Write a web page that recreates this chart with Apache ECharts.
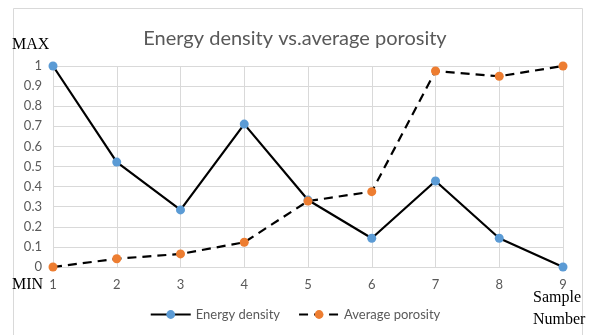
<!DOCTYPE html>
<html><head><meta charset="utf-8">
<script src="https://cdn.jsdelivr.net/npm/echarts@6/dist/echarts.min.js"></script>
<style>html,body{margin:0;padding:0;background:#fff}#c{width:590px;height:335px}</style>
</head><body><div id="c"></div>
<script>
const categories = ['1','2','3','4','5','6','7','8','9'];
const energyDensity = [1, 0.522, 0.284, 0.711, 0.333, 0.143, 0.428, 0.143, 0];
const averagePorosity = [0, 0.041, 0.065, 0.123, 0.328, 0.375, 0.975, 0.949, 1];
const titleText = 'Energy density vs.average porosity';

const chart = echarts.init(document.getElementById('c'), null, {renderer:'canvas'});
const tickFont = 'Lato, "Open Sans", sans-serif';
chart.setOption({
  animation:false,
  backgroundColor:'#fff',
  title:{text:titleText,left:'center',top:24,
    textStyle:{fontFamily:tickFont,fontSize:20,fontWeight:'normal',color:'#595959'}},
  grid:{left:53,right:27,top:66,bottom:68,containLabel:false},
  legend:{bottom:9,left:'center',itemWidth:40,itemHeight:11,itemGap:18,
    textStyle:{fontFamily:tickFont,fontSize:13,color:'#595959'},
    data:['Energy density','Average porosity']},
  xAxis:{type:'category',data:categories,boundaryGap:false,
    axisTick:{show:false},
    axisLine:{lineStyle:{color:'#d9d9d9'}},
    axisLabel:{fontFamily:tickFont,fontSize:13,color:'#595959',margin:11},
    splitLine:{show:true,lineStyle:{color:'#d9d9d9'}}},
  yAxis:{type:'value',min:0,max:1,interval:0.1,
    axisLine:{show:true,lineStyle:{color:'#d9d9d9'}},
    axisTick:{show:false},
    axisLabel:{fontFamily:tickFont,fontSize:13,color:'#595959',margin:11},
    splitLine:{lineStyle:{color:'#d9d9d9'}}},
  series:[
    {name:'Energy density',type:'line',data:energyDensity,symbol:'circle',symbolSize:9,
      lineStyle:{color:'#000',width:2.2},itemStyle:{color:'#5B9BD5'}},
    {name:'Average porosity',type:'line',data:averagePorosity,symbol:'circle',symbolSize:9,
      lineStyle:{color:'#000',width:2.2,type:[9,6]},itemStyle:{color:'#ED7D31'}}
  ],
  graphic:[
    {type:'rect',shape:{x:13.5,y:8.5,width:569,height:340},style:{fill:null,stroke:'#d9d9d9',lineWidth:1},silent:true},
    {type:'text',left:12,top:37,style:{text:'MAX',font:'16px "Liberation Serif", serif',fill:'#000'}},
    {type:'text',left:12,top:277,style:{text:'MIN',font:'16px "Liberation Serif", serif',fill:'#000'}},
    {type:'text',left:533,top:287,style:{text:'Sample\nNumber',font:'16px "Liberation Serif", serif',fill:'#000',lineHeight:22}}
  ]
});
</script></body></html>
